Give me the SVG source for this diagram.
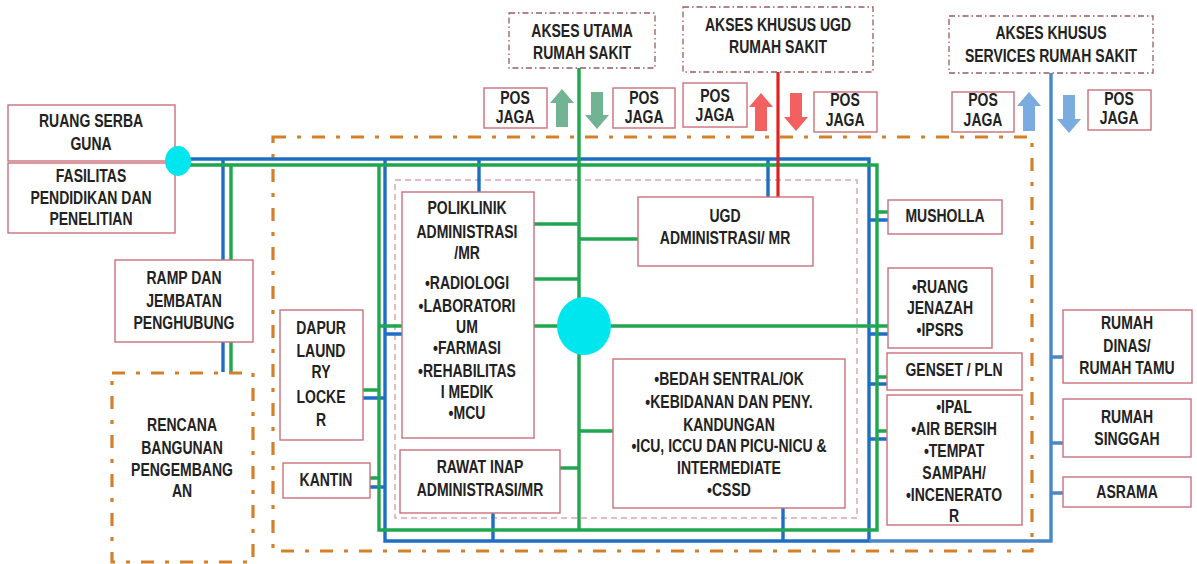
<svg xmlns="http://www.w3.org/2000/svg" width="1197" height="564" viewBox="0 0 1197 564">
<style>
.t{font-family:"Liberation Sans",Arial,sans-serif;font-weight:bold;font-size:17.5px;fill:#222;text-anchor:middle;transform-box:fill-box;transform-origin:center;transform:scaleX(0.8)}
.box{fill:#fff;stroke:#c9707a;stroke-width:1.4}
.acc{fill:#fff;stroke:#9a5a62;stroke-width:1.3;stroke-dasharray:6 3 1.5 3}
.zone{fill:none;stroke:#d4802a;stroke-width:3.2;stroke-dasharray:13 11 4 11}
.inner{fill:none;stroke:#d9a9b0;stroke-width:1.5;stroke-dasharray:6 4}
.bl{fill:none;stroke:#1f6ec6;stroke-width:3.4}
.bl2{fill:none;stroke:#4a86c8;stroke-width:3.4}
.gr{fill:none;stroke:#1fa64e;stroke-width:3.4}
.rd{fill:none;stroke:#e02222;stroke-width:3.2}
.hub{fill:#00e6ee}
.ag{fill:#72b394}
.ar{fill:#f2615f}
.ab{fill:#7aacdf}
</style>

<g id="zones">
<rect class="zone" x="273" y="137" width="759" height="414"/>
<rect class="inner" x="395" y="180" width="462" height="338"/>
</g>

<g id="connectors">
<path class="bl" d="M178 159 H869 V541 H385 V159"/>
<path class="bl2" d="M869 541 H1051 V73"/>
<path class="bl" d="M223 159 V372 M479 159 V192 M768 159 V197 M493 513 V541 M783 508 V541 M363 398 H385 M370 487 H385 M385 334 H402 M869 220 H888 M869 334 H888 M869 384 H887 M869 439 H887"/>
<path class="bl2" d="M1051 357 H1063 M1051 443 H1063 M1051 493 H1063"/>
<path class="gr" d="M178 165 H877 V530 H379 V165"/>
<path class="gr" d="M231 165 V372 M579 68 V530 M534 224 H579 M579 239 H638 M534 279 H579 M534 326 H888 M379 326 H402 M579 431 H613 M560 468 H579 M363 390 H379 M370 478 H379 M877 212 H888 M877 377 H887 M877 431 H887"/>
<path class="rd" d="M778 72 V197"/>
</g>

<g id="hub-center"><ellipse class="hub" cx="584" cy="326" rx="27" ry="29"/></g>

<g id="arrow-green-up"><polygon class="ag" points="562,89 574,103 568,103 568,127 556,127 556,103 550,103"/></g>
<g id="arrow-green-down"><polygon class="ag" points="597,129 609,115 603,115 603,92 591,92 591,115 585,115"/></g>
<g id="arrow-red-up"><polygon class="ar" points="761,93 773,107 767,107 767,131 755,131 755,107 749,107"/></g>
<g id="arrow-red-down"><polygon class="ar" points="796,131 808,117 802,117 802,93 790,93 790,117 784,117"/></g>
<g id="arrow-blue-up"><polygon class="ab" points="1029,92 1041,106 1035,106 1035,131 1023,131 1023,106 1017,106"/></g>
<g id="arrow-blue-down"><polygon class="ab" points="1069,133 1081,119 1075,119 1075,95 1063,95 1063,119 1057,119"/></g>

<g id="akses-utama"><rect class="acc" x="509" y="13" width="146" height="55"/>
<text class="t" x="582" y="37">AKSES UTAMA</text><text class="t" x="582" y="59">RUMAH SAKIT</text></g>
<g id="akses-ugd"><rect class="acc" x="683" y="7" width="190" height="65"/>
<text class="t" x="778" y="31">AKSES KHUSUS UGD</text><text class="t" x="778" y="53">RUMAH SAKIT</text></g>
<g id="akses-services"><rect class="acc" x="949" y="16" width="204" height="57"/>
<text class="t" x="1051" y="39">AKSES KHUSUS</text><text class="t" x="1051" y="62">SERVICES RUMAH SAKIT</text></g>

<g id="pos-1"><rect class="box" x="484" y="88" width="63" height="40"/><text class="t" x="515" y="104">POS</text><text class="t" x="515" y="123">JAGA</text></g>
<g id="pos-2"><rect class="box" x="613" y="88" width="62" height="40"/><text class="t" x="644" y="104">POS</text><text class="t" x="644" y="123">JAGA</text></g>
<g id="pos-3"><rect class="box" x="683" y="83" width="64" height="44"/><text class="t" x="715" y="102">POS</text><text class="t" x="715" y="121">JAGA</text></g>
<g id="pos-4"><rect class="box" x="814" y="92" width="63" height="40"/><text class="t" x="845" y="106">POS</text><text class="t" x="845" y="126">JAGA</text></g>
<g id="pos-5"><rect class="box" x="952" y="92" width="62" height="40"/><text class="t" x="983" y="106">POS</text><text class="t" x="983" y="126">JAGA</text></g>
<g id="pos-6"><rect class="box" x="1088" y="90" width="63" height="40"/><text class="t" x="1119" y="105">POS</text><text class="t" x="1119" y="124">JAGA</text></g>

<g id="ruang-serba-guna"><rect class="box" x="8" y="105" width="167" height="56"/>
<text class="t" x="91" y="127">RUANG SERBA</text><text class="t" x="91" y="150">GUNA</text></g>
<g id="fasilitas"><rect class="box" x="8" y="163" width="167" height="70"/>
<text class="t" x="91" y="182">FASILITAS</text><text class="t" x="91" y="204">PENDIDIKAN DAN</text><text class="t" x="91" y="225">PENELITIAN</text></g>
<g id="hub-left"><ellipse class="hub" cx="178" cy="161" rx="13" ry="15"/></g>
<g id="ramp"><rect class="box" x="115" y="260" width="138" height="82"/>
<text class="t" x="184" y="284">RAMP DAN</text><text class="t" x="184" y="307">JEMBATAN</text><text class="t" x="184" y="329">PENGHUBUNG</text></g>
<g id="rencana"><rect class="zone" x="112" y="373" width="141" height="189"/>
<text class="t" x="182" y="431">RENCANA</text><text class="t" x="182" y="454">BANGUNAN</text><text class="t" x="182" y="476">PENGEMBANG</text><text class="t" x="182" y="497">AN</text></g>

<g id="dapur"><rect class="box" x="280" y="310" width="83" height="130"/>
<text class="t" x="321" y="334">DAPUR</text><text class="t" x="321" y="357">LAUND</text><text class="t" x="321" y="378">RY</text><text class="t" x="321" y="403">LOCKE</text><text class="t" x="321" y="426">R</text></g>
<g id="kantin"><rect class="box" x="283" y="463" width="87" height="35"/>
<text class="t" x="326" y="486">KANTIN</text></g>

<g id="poliklinik"><rect class="box" x="402" y="192" width="132" height="246"/>
<text class="t" x="467" y="214">POLIKLINIK</text><text class="t" x="467" y="238">ADMINISTRASI</text><text class="t" x="467" y="259">/MR</text>
<text class="t" x="467" y="289">•RADIOLOGI</text><text class="t" x="467" y="312">•LABORATORI</text><text class="t" x="467" y="333">UM</text>
<text class="t" x="467" y="354">•FARMASI</text><text class="t" x="467" y="377">•REHABILITAS</text><text class="t" x="467" y="398">I MEDIK</text><text class="t" x="467" y="419">•MCU</text></g>
<g id="rawat-inap"><rect class="box" x="400" y="450" width="160" height="63"/>
<text class="t" x="480" y="473">RAWAT  INAP</text><text class="t" x="480" y="496">ADMINISTRASI/MR</text></g>
<g id="ugd"><rect class="box" x="638" y="197" width="175" height="69"/>
<text class="t" x="725" y="222">UGD</text><text class="t" x="725" y="244">ADMINISTRASI/ MR</text></g>
<g id="bedah"><rect class="box" x="613" y="359" width="232" height="149"/>
<text class="t" x="729" y="385">•BEDAH SENTRAL/OK</text><text class="t" x="729" y="408">•KEBIDANAN DAN PENY.</text><text class="t" x="729" y="431">KANDUNGAN</text>
<text class="t" x="729" y="452">•ICU, ICCU DAN PICU-NICU &amp;</text><text class="t" x="729" y="474">INTERMEDIATE</text><text class="t" x="729" y="496">•CSSD</text></g>

<g id="musholla"><rect class="box" x="888" y="200" width="114" height="34"/>
<text class="t" x="945" y="222">MUSHOLLA</text></g>
<g id="ruang-jenazah"><rect class="box" x="888" y="268" width="104" height="80"/>
<text class="t" x="940" y="293">•RUANG</text><text class="t" x="940" y="314">JENAZAH</text><text class="t" x="940" y="336">•IPSRS</text></g>
<g id="genset"><rect class="box" x="887" y="353" width="135" height="37"/>
<text class="t" x="954" y="376">GENSET / PLN</text></g>
<g id="ipal"><rect class="box" x="887" y="395" width="135" height="130"/>
<text class="t" x="954" y="413">•IPAL</text><text class="t" x="954" y="435">•AIR BERSIH</text><text class="t" x="954" y="457">•TEMPAT</text>
<text class="t" x="954" y="479">SAMPAH/</text><text class="t" x="954" y="501">•INCENERATO</text><text class="t" x="954" y="522">R</text></g>

<g id="rumah-dinas"><rect class="box" x="1063" y="310" width="129" height="73"/>
<text class="t" x="1127" y="329">RUMAH</text><text class="t" x="1127" y="352">DINAS/</text><text class="t" x="1127" y="374">RUMAH TAMU</text></g>
<g id="rumah-singgah"><rect class="box" x="1063" y="399" width="128" height="58"/>
<text class="t" x="1127" y="423">RUMAH</text><text class="t" x="1127" y="445">SINGGAH</text></g>
<g id="asrama"><rect class="box" x="1063" y="477" width="128" height="30"/>
<text class="t" x="1127" y="498">ASRAMA</text></g>
</svg>
